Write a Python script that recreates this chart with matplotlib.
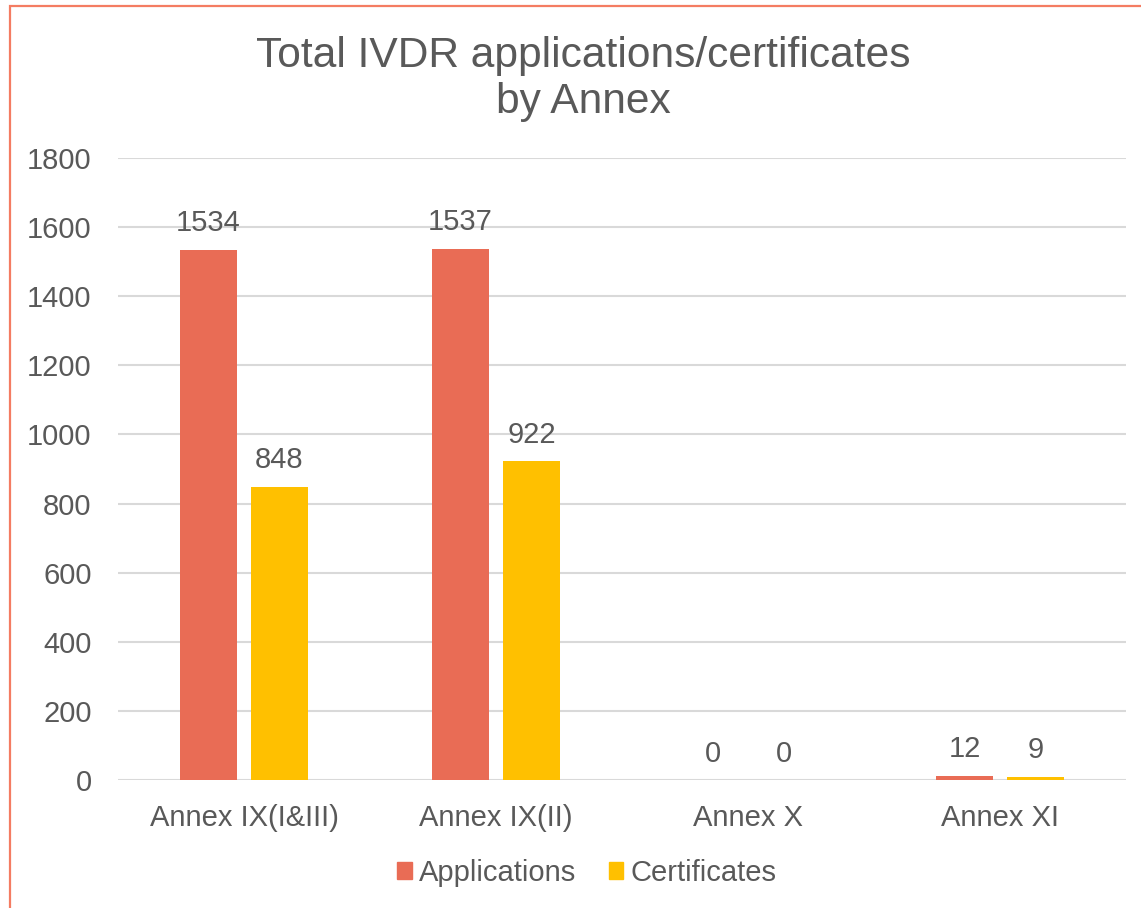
import matplotlib.pyplot as plt
from matplotlib.patches import Rectangle, Patch
import numpy as np

plt.rcParams['font.family'] = ['Liberation Sans', 'DejaVu Sans']

categories = ['Annex IX(I&III)', 'Annex IX(II)', 'Annex X', 'Annex XI']
applications = [1534, 1537, 0, 12]
certificates = [848, 922, 0, 9]
yticks = [0, 200, 400, 600, 800, 1000, 1200, 1400, 1600, 1800]

APP_COLOR = '#E96C55'
CERT_COLOR = '#FFC000'
TEXT_COLOR = '#595959'
GRID_COLOR = '#D9D9D9'

W, H = 1141, 908
fig = plt.figure(figsize=(W / 100, H / 100), dpi=100)

# chart frame (only left and top edges are visible)
fig.patches.append(Rectangle((9.5 / W, -0.1), 1.2, 1 - 6 / H + 0.1, transform=fig.transFigure,
                             fill=False, edgecolor='#F47C62', linewidth=1.6))

ax = fig.add_axes([118 / W, (H - 780) / H, (1126 - 118) / W, (780 - 158) / H])

x = np.arange(len(categories))
bw = 0.226
gap = 0.056
off = (bw + gap) / 2
b1 = ax.bar(x - off, applications, bw, color=APP_COLOR, zorder=3)
b2 = ax.bar(x + off, certificates, bw, color=CERT_COLOR, zorder=3)

for bars, vals in ((b1, applications), (b2, certificates)):
    for rect, v in zip(bars, vals):
        ax.annotate(str(v), (rect.get_x() + rect.get_width() / 2, v),
                    xytext=(0, 9), textcoords='offset points',
                    ha='center', va='bottom', fontsize=21, color=TEXT_COLOR)

ax.set_xlim(-0.5, len(categories) - 0.5)
ax.set_ylim(0, 1800)
ax.set_yticks(yticks)
ax.set_xticks(x)
ax.set_xticklabels(categories)
ax.tick_params(axis='both', length=0, labelsize=21, labelcolor=TEXT_COLOR)
ax.tick_params(axis='y', pad=19)
ax.tick_params(axis='x', pad=17)
ax.grid(axis='y', color=GRID_COLOR, linewidth=1.5, zorder=0)
for s in ax.spines.values():
    s.set_visible(False)

fig.text(583 / W, 1 - 79 / H, 'Total IVDR applications/certificates\nby Annex',
         ha='center', va='center', fontsize=30.6, color=TEXT_COLOR, linespacing=1.22)

handles = [Patch(color=APP_COLOR, label='Applications'),
           Patch(color=CERT_COLOR, label='Certificates')]
fig.legend(handles=handles, loc='center', bbox_to_anchor=(587 / W, 1 - 873 / H),
           ncol=2, frameon=False, fontsize=21, labelcolor=TEXT_COLOR,
           handlelength=0.5, handleheight=0.5, handletextpad=0.25, columnspacing=1.1)

fig.savefig('out.png', dpi=100, facecolor='white')
